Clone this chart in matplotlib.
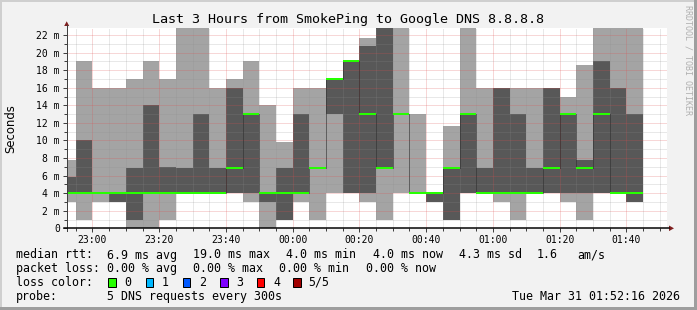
import matplotlib
matplotlib.use("Agg")
import matplotlib.pyplot as plt
from matplotlib.patches import Rectangle, Polygon
from matplotlib.lines import Line2D
from matplotlib.ticker import MultipleLocator, FuncFormatter
import numpy as np

# ---------------- data (ms) ----------------
bin_start = ["22:50", "22:55", "23:00", "23:05", "23:10", "23:15", "23:20", "23:25",
             "23:30", "23:35", "23:40", "23:45", "23:50", "23:55", "00:00", "00:05",
             "00:10", "00:15", "00:20", "00:25", "00:30", "00:35", "00:40", "00:45",
             "00:50", "00:55", "01:00", "01:05", "01:10", "01:15", "01:20", "01:25",
             "01:30", "01:35", "01:40"]
ping_min = [3.0, 1.0, 3.0, 3.0, 0.0, 0.0, 1.0, 4.05, 4.05, 4.05, 4.05, 3.0, 0.0, 1.0,
            3.0, 1.0, 4.05, 4.05, 3.0, 1.0, 4.05, 4.05, 3.0, 1.0, 4.05, 4.05, 3.0, 1.0,
            4.05, 4.05, 3.0, 1.0, 4.05, 4.05, 3.0]
ping_lo = [4.05, 4.05, 4.05, 3.0, 1.0, 4.05, 4.05, 4.05, 4.05, 4.05, 4.05, 4.05, 3.0, 1.0,
           4.05, 6.9, 13.0, 4.05, 4.05, 6.9, 13.0, 4.05, 3.0, 1.0, 4.05, 4.05, 4.05, 4.05,
           4.05, 4.05, 4.05, 4.05, 4.05, 4.05, 3.0]
ping_med = [4.05, 4.05, 4.05, 4.05, 4.05, 4.05, 4.05, 4.05, 4.05, 4.05, 6.9, 13.0, 4.05, 4.05,
            4.05, 6.9, 17.0, 19.0, 13.0, 6.9, 13.0, 4.05, 4.05, 6.9, 13.0, 4.05, 4.05, 4.05,
            4.05, 6.9, 13.0, 6.9, 13.0, 4.05, 4.05]
ping_hi = [5.8, 10.0, 4.05, 4.05, 6.9, 14.0, 7.0, 6.9, 13.0, 6.9, 16.0, 13.0, 4.05, 6.9,
           13.0, 6.9, 17.0, 19.0, 20.7, 23.5, 13.0, 4.05, 4.05, 6.9, 13.0, 6.9, 16.0, 13.0,
           6.9, 16.0, 13.0, 7.8, 19.0, 16.0, 13.0]
ping_max = [7.8, 19.0, 16.0, 16.0, 17.0, 19.0, 17.0, 23.5, 23.5, 16.0, 17.0, 19.0, 14.0, 9.8,
            16.0, 16.0, 17.0, 19.0, 21.7, 23.5, 23.5, 13.0, 4.05, 11.7, 23.5, 16.0, 16.0, 16.0,
            16.0, 16.0, 15.0, 18.6, 23.5, 23.5, 23.5]

x_tick_labels = ["23:00", "23:20", "23:40", "00:00", "00:20", "00:40", "01:00", "01:20", "01:40"]

title = "Last 3 Hours from SmokePing to Google DNS 8.8.8.8"
legend_rows = [
    [("median rtt:", 16), ("6.9 ms avg", 107.3), ("19.0 ms max", 193.3), ("4.0 ms min", 286.0),
     ("4.0 ms now", 372.7), ("4.3 ms sd", 458.7), ("1.6", 536.7), ("am/s", 577.3)],
    [("packet loss:", 16), ("0.00 % avg", 107.3), ("0.00 % max", 193.3), ("0.00 % min", 279.3),
     ("0.00 % now", 366.0)],
]
loss_labels = ["0", "1", "2", "3", "4", "5/5"]
loss_colors = ["#26ff00", "#00b8ff", "#0059ff", "#7e00ff", "#ff0000", "#a10000"]
probe_text = "5 DNS requests every 300s"
stamp_text = "Tue Mar 31 01:52:16 2026"


def to_min(s):
    h, m = map(int, s.split(":"))
    return (h - 24) * 60 + m if h >= 12 else h * 60 + m


W, H = 697, 310
fig = plt.figure(figsize=(W / 100, H / 100), dpi=100, facecolor="#f2f2f2")
MONO = "DejaVu Sans Mono"
PX = 0.72  # one pixel in points

L, R, T, B = 66.7, 667.3, 28.0, 228.3
ax = fig.add_axes([L / W, 1 - B / H, (R - L) / W, (B - T) / H])
ax.set_facecolor("white")

starts = np.array([to_min(s) for s in bin_start], dtype=float)
width = 5.0
pmin = np.array(ping_min); plo = np.array(ping_lo); pmed = np.array(ping_med)
phi = np.array(ping_hi); pmax = np.array(ping_max)

ax.bar(starts, pmax - pmin, width=width, bottom=pmin, align="edge", color="#a4a4a4",
       linewidth=0, antialiased=False, zorder=1)
ax.bar(starts, phi - plo, width=width, bottom=plo, align="edge", color="#585858",
       linewidth=0, antialiased=False, zorder=1.5)
edges = np.append(starts, starts[-1] + width)
ax.stairs(pmed, edges, baseline=None, color="#202020", lw=PX, linestyle=(0, (1, 1)), zorder=4)
ax.hlines(pmed, starts, starts + width, color="#26ff00", lw=2 * PX, zorder=5)

ax.set_xlim(-67.73, 112.27)
ax.set_ylim(0, 22.8)

ax.xaxis.set_major_locator(MultipleLocator(20))
ax.xaxis.set_minor_locator(MultipleLocator(5))
ax.yaxis.set_major_locator(MultipleLocator(2))
ax.yaxis.set_minor_locator(MultipleLocator(1))
tick_pos = [to_min(s) for s in x_tick_labels]
ax.set_xticks(tick_pos)
ax.set_xticklabels(x_tick_labels)
ax.yaxis.set_major_formatter(FuncFormatter(lambda v, p: "0" if v == 0 else "%d m" % v))

ax.set_axisbelow(False)
ax.grid(which="minor", color="#8c8c8c", alpha=0.4, lw=PX, linestyle=(0, (1, 1)))
ax.grid(which="major", color="#de4f4f", alpha=0.45, lw=PX, linestyle=(0, (1, 1)))
for gl in ax.get_xgridlines() + ax.get_ygridlines():
    gl.set_zorder(3)

for sp in ax.spines.values():
    sp.set_visible(False)
ax.tick_params(which="both", direction="out", color="#404040", width=PX, labelsize=7,
               pad=2)
ax.tick_params(which="major", length=3)
ax.tick_params(which="minor", length=2)
for lab in ax.get_xticklabels() + ax.get_yticklabels():
    lab.set_family(MONO)
ax.tick_params(axis="x", pad=1.5)

# ---------------- overlay in pixel coordinates ----------------
ov = fig.add_axes([0, 0, 1, 1], zorder=10)
ov.set_xlim(0, W); ov.set_ylim(H, 0); ov.axis("off"); ov.patch.set_alpha(0)

# frame shading
ov.add_patch(Rectangle((0, 0), W, 2, color="#cfcfcf", lw=0))
ov.add_patch(Rectangle((0, 0), 2, H, color="#cfcfcf", lw=0))
ov.add_patch(Rectangle((0, H - 3), W, 3, color="#9e9e9e", lw=0))
ov.add_patch(Rectangle((W - 3, 0), 3, H, color="#9e9e9e", lw=0))

# axes lines and arrows
ov.add_line(Line2D([L, L], [B + 3, 25], color="#404040", lw=PX))
ov.add_line(Line2D([L - 3, 669], [B, B], color="black", lw=1.5 * PX))
ov.add_patch(Polygon([(L - 2.5, 26), (L + 2.5, 26), (L, 21.3)], closed=True, color="#7f1f1f", lw=0))
ov.add_patch(Polygon([(669, 225.5), (669, 231.1), (674, B)], closed=True, color="#7f1f1f", lw=0))

# texts
ov.text(347.5, 19, title, family=MONO, fontsize=9.6, ha="center", va="center")
ov.text(11, (T + B) / 2, "Seconds", family="DejaVu Sans", fontsize=8.4, rotation=90,
        ha="center", va="center")
ov.text(688, 5, "RRDTOOL / TOBI OETIKER", family=MONO, fontsize=6.0, rotation=270,
        ha="center", va="top", color="#b0b0b0")

row_y = [255, 268.5, 282, 296.5]
for row, yy in zip(legend_rows, row_y):
    for txt, xx in row:
        ov.text(xx, yy, txt, family=MONO, fontsize=8.4, ha="left", va="center")

ov.text(16, row_y[2], "loss color:", family=MONO, fontsize=8.4, ha="left", va="center")
box_x = [108.3, 145.7, 182.7, 220.0, 256.7, 293.3]
lab_x = [124.0, 161.7, 199.3, 236.0, 273.3, 308.3]
for bx, lx, lab, col in zip(box_x, lab_x, loss_labels, loss_colors):
    ov.add_patch(Rectangle((bx, 278), 7.5, 8.5, facecolor=col, edgecolor="black", lw=PX))
    ov.text(lx, row_y[2], lab, family=MONO, fontsize=8.4, ha="left", va="center")

ov.text(16, row_y[3], "probe:", family=MONO, fontsize=8.4, ha="left", va="center")
ov.text(107.3, row_y[3], probe_text, family=MONO, fontsize=8.4, ha="left", va="center")
ov.text(680, row_y[3], stamp_text, family=MONO, fontsize=8.4, ha="right", va="center")

fig.savefig("out.png", dpi=100, facecolor=fig.get_facecolor())
